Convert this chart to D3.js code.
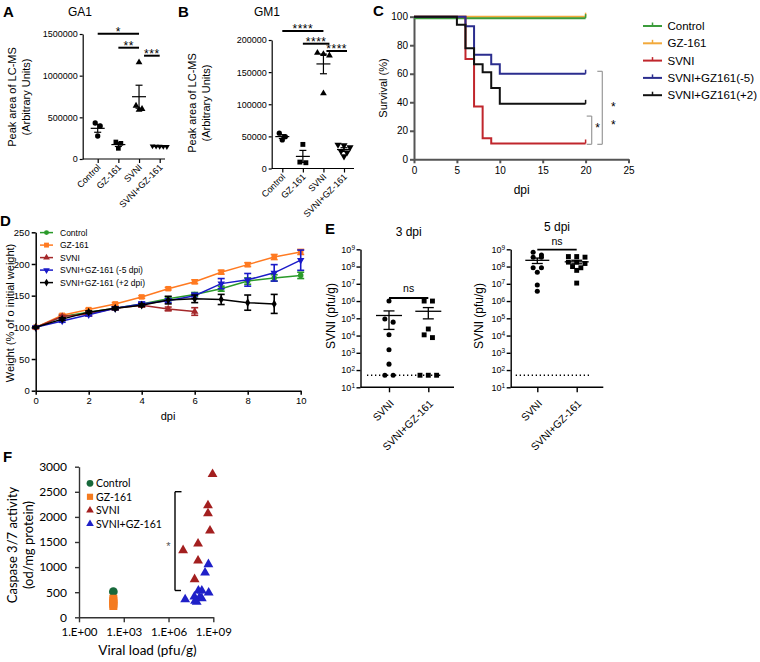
<!DOCTYPE html>
<html><head><meta charset="utf-8">
<script src="https://cdn.jsdelivr.net/npm/d3@7/dist/d3.min.js"></script>
<style>html,body{margin:0;padding:0;background:#fff}svg{display:block}</style>
</head><body>
<svg id="chart" width="760" height="662" xmlns="http://www.w3.org/2000/svg"></svg>
<script>
// ================= DATA =================
const abCategories = ["Control", "GZ-161", "SVNI", "SVNI+GZ-161"];
const ga1Control = [432000, 396000, 276000];
const ga1GZ161 = [204000, 188000, 128000];
const ga1SVNI = [1160000, 640000, 600000, 590000];
const ga1Combo = [155000, 152000, 150000, 149000, 147000];
const ga1Ticks = [0, 500000, 1000000, 1500000];
const ga1Sig = [["Control", "SVNI", "*"], ["GZ-161", "SVNI", "**"], ["SVNI", "SVNI+GZ-161", "***"]];

const gm1Control = [55000, 49500, 44500];
const gm1GZ161 = [37500, 10000, 9000];
const gm1SVNI = [180000, 178000, 176000, 117000];
const gm1Combo = [37000, 36000, 33000, 27000, 25000, 19000];
const gm1Ticks = [0, 50000, 100000, 150000, 200000];
const gm1Sig = [["Control", "SVNI", "****"], ["GZ-161", "SVNI", "****"], ["SVNI", "SVNI+GZ-161", "****"]];

const survNames = ["Control", "GZ-161", "SVNI", "SVNI+GZ161(-5)", "SVNI+GZ161(+2)"];
const survControl = [[0, 99], [20, 99]];
const survGZ161 = [[0, 100], [20, 100]];
const survSVNI = [[0, 100], [6, 70.4], [7, 37], [8, 14.8], [9, 11.1], [20, 11.1]];
const survMinus5 = [[0, 100], [6, 93.3], [7, 73.3], [9, 66.7], [10, 60], [20, 60]];
const survPlus2 = [[0, 100], [5, 94.4], [6, 77.8], [7, 66.7], [8, 61.1], [9, 50], [10, 38.9], [20, 38.9]];
const survXTicks = [0, 5, 10, 15, 20, 25];
const survYTicks = [0, 20, 40, 60, 80, 100];

const weightNames = ["Control", "GZ-161", "SVNI", "SVNI+GZ-161 (-5 dpi)", "SVNI+GZ-161 (+2 dpi)"];
const weightDays = [0, 1, 2, 3, 4, 5, 6, 7, 8, 9, 10];
const wControl = [100, 117, 124, 130, 137, 145, 152, 161, 173, 178, 182];
const wControlErr = [1, 2, 2, 2, 2, 3, 3, 4, 5, 5, 5];
const wGZ161 = [100, 119, 128, 137, 148, 161, 172, 187, 199, 211, 219];
const wGZ161Err = [1, 2, 2, 2, 2, 2, 3, 3, 3, 4, 4];
const wSVNI = [100, 117, 121, 130, 135, 129, 125];
const wSVNIErr = [1, 2, 3, 2, 3, 3, 6];
const wMinus5 = [100, 110, 120, 130, 137, 142, 150, 169, 175, 186, 206];
const wMinus5Err = [1, 2, 2, 2, 3, 3, 4, 8, 10, 13, 16];
const wPlus2 = [100, 113, 124, 130, 135, 143, 145, 144, 139, 137];
const wPlus2Err = [1, 2, 2, 2, 2, 6, 6, 8, 12, 15];
const weightXTicks = [0, 2, 4, 6, 8, 10];
const weightYTicks = [0, 50, 100, 150, 200, 250];

const eCategories = ["SVNI", "SVNI+GZ-161"];
const e3SVNI = [1e6, 9e4, 6e4, 1.1e4, 1.5e3, 220, 50, 50];
const e3Combo = [1e6, 1e6, 2.4e4, 1.1e4, 7.6e3, 50, 50, 50];
const e5SVNI = [6.7e8, 4.7e8, 3.5e8, 3.5e8, 8.5e7, 8.5e7, 4.7e7, 8.5e6, 3.7e6];
const e5Combo = [3.8e8, 3.8e8, 3.5e8, 1.8e8, 1.8e8, 1.5e8, 1e8, 8.5e7, 6e7, 1.1e7];
const eDetectionLimit = 50;
const eTicks = [1e1, 1e2, 1e3, 1e4, 1e5, 1e6, 1e7, 1e8, 1e9];

const fNames = ["Control", "GZ-161", "SVNI", "SVNI+GZ-161"];
const fControl = [[200, 510]];
const fGZ161 = [[200, 370], [200, 330], [200, 290], [200, 260], [200, 225]];
const fSVNI = [[8.9e8, 2850], [4.4e8, 2230], [4.4e8, 2070], [6e8, 1725], [9.5e7, 1466], [9.5e6, 1335], [9.5e7, 1128], [5.6e7, 757]];
const fCombo = [[4.7e8, 1056], [2.8e8, 888], [1e8, 530], [1.7e8, 530], [4.9e8, 490], [5.4e7, 410], [1.2e8, 398], [1.7e8, 378], [7.7e7, 305], [1.3e7, 358], [6e7, 325]];
const fXTicks = [1, 1e3, 1e6, 1e9];
const fXTickLabels = ["1.E+00", "1.E+03", "1.E+06", "1.E+09"];
const fYTicks = [0, 500, 1000, 1500, 2000, 2500, 3000];

// ================= HELPERS =================
const svg = d3.select("#chart");
const FONT = "'Liberation Sans', Arial, Helvetica, sans-serif";
const FONT_F = "Lato, 'Open Sans', sans-serif";

function txt(x, y, s, o = {}) {
  const t = svg.append("text").attr("x", x).attr("y", y).text(s)
    .attr("font-family", o.family || FONT).attr("font-size", o.size || 11)
    .attr("fill", o.fill || "#000").attr("text-anchor", o.anchor || "start");
  if (o.weight) t.attr("font-weight", o.weight);
  if (o.rotate) t.attr("transform", `rotate(${o.rotate},${x},${y})`);
  if (o.baseline) t.attr("dominant-baseline", o.baseline);
  if (o.ls) t.attr("letter-spacing", o.ls);
  return t;
}
function line(g, x1, y1, x2, y2, color, w, dash) {
  const l = g.append("line").attr("x1", x1).attr("y1", y1).attr("x2", x2).attr("y2", y2)
    .attr("stroke", color).attr("stroke-width", w);
  if (dash) l.attr("stroke-dasharray", dash);
  return l;
}
function styleAxis(g, color, width, size, family) {
  g.attr("font-family", family || FONT).attr("font-size", size);
  g.select(".domain").attr("stroke", color).attr("stroke-width", width);
  g.selectAll(".tick line").attr("stroke", color).attr("stroke-width", width);
  g.selectAll(".tick text").attr("fill", "#000");
}
function dodge(values, y, cx, spacing, tol) {
  const pts = values.map(v => ({ v, y: y(v) })).sort((a, b) => a.y - b.y);
  const rows = []; let cur = null;
  pts.forEach(p => { if (cur && p.y - cur[0].y <= tol) cur.push(p); else { cur = [p]; rows.push(cur); } });
  rows.forEach(r => r.forEach((p, i) => { p.x = cx + (i - (r.length - 1) / 2) * spacing; }));
  return pts;
}
const symbolOf = { circle: d3.symbolCircle, square: d3.symbolSquare, up: d3.symbolTriangle, down: d3.symbolTriangle, diamond: d3.symbolDiamond };
function drawMarks(g, pts, shape, size, fill) {
  g.selectAll(null).data(pts).join("path")
    .attr("d", d3.symbol(symbolOf[shape], size)())
    .attr("transform", d => `translate(${d.x},${d.y})` + (shape === "down" ? " rotate(180)" : ""))
    .attr("fill", fill);
}
function meanSem(g, vals, cx, y, half, cap, w) {
  const m = d3.mean(vals);
  const se = d3.deviation(vals) / Math.sqrt(vals.length);
  line(g, cx - half, y(m), cx + half, y(m), "#000", w);
  line(g, cx, y(m - se), cx, y(m + se), "#000", w);
  line(g, cx - cap, y(m + se), cx + cap, y(m + se), "#000", w);
  line(g, cx - cap, y(m - se), cx + cap, y(m - se), "#000", w);
}

// ================= PANELS A & B =================
function dotPanel(c) {
  const g = svg.append("g");
  const y = d3.scaleLinear().domain([0, c.yMax]).range(c.yRange);
  const x = d3.scalePoint().domain(abCategories).range(c.xRange);
  const ay = g.append("g").attr("transform", `translate(${c.axisX},0)`)
    .call(d3.axisLeft(y).tickValues(c.ticks).tickFormat(d3.format("d")).tickSize(3).tickPadding(2).tickSizeOuter(0));
  styleAxis(ay, "#000", 1.2, 9);
  line(g, c.axisX, c.yRange[0], c.axisEnd, c.yRange[0], "#000", 1.2);
  const ax = g.append("g").attr("transform", `translate(0,${c.yRange[0]})`)
    .call(d3.axisBottom(x).tickSize(4).tickSizeOuter(0));
  ax.select(".domain").remove();
  styleAxis(ax, "#000", 1.2, 9);
  ax.selectAll(".tick text").attr("x", 0).attr("y", 0).attr("dy", 0)
    .attr("transform", "translate(3,9) rotate(-45)").attr("text-anchor", "end");
  c.groups.forEach((vals, i) => {
    const cx = x(abCategories[i]);
    drawMarks(g, dodge(vals, y, cx, c.spacing[i], 4), c.shapes[i], c.sizes[i], "#000");
    meanSem(g, vals, cx, y, 7, 3.5, 1.2);
  });
  c.sig.forEach((s, i) => {
    const x1 = x(s[0]) + (i === 2 ? c.sigShift : 0), x2 = x(s[1]) + (i >= 1 ? c.sigEnd[i] : 0);
    line(g, x1, c.sigY[i], x2, c.sigY[i], "#000", 2);
    txt((x1 + x2) / 2, c.sigY[i] + 2, s[2], { size: 12, anchor: "middle", ls: 0.5 });
  });
  txt(c.titleX, 16, c.title, { size: 12, anchor: "middle" });
  txt(c.lab1X, c.labY, "Peak area of LC-MS", { size: 11, anchor: "middle", rotate: -90, baseline: "central" });
  txt(c.lab2X, c.labY, "(Arbitrary Units)", { size: 11, anchor: "middle", rotate: -90, baseline: "central" });
}
dotPanel({
  yMax: 1500000, yRange: [159, 34], xRange: [97.7, 159.7], axisX: 82.7, axisEnd: 165, ticks: ga1Ticks,
  groups: [ga1Control, ga1GZ161, ga1SVNI, ga1Combo], shapes: ["circle", "square", "up", "down"], sizes: [22, 22, 20, 14],
  spacing: [5, 5, 6, 3.6], sig: ga1Sig, sigY: [33.7, 47.7, 55.7], sigShift: 5, sigEnd: [0, 0, 0],
  title: "GA1", titleX: 80, lab1X: 12, lab2X: 26, labY: 97
});
dotPanel({
  yMax: 200000, yRange: [168.5, 40], xRange: [282.3, 344], axisX: 271.7, axisEnd: 354, ticks: gm1Ticks,
  groups: [gm1Control, gm1GZ161, gm1SVNI, gm1Combo], shapes: ["circle", "square", "up", "down"], sizes: [22, 24, 20, 22],
  spacing: [6, 6, 6, 6], sig: gm1Sig, sigY: [31, 43.7, 51], sigShift: 3, sigEnd: [0, 6, 3],
  title: "GM1", titleX: 267, lab1X: 192, lab2X: 206, labY: 103
});
txt(3, 17, "A", { size: 15, weight: "bold" });
txt(178, 17, "B", { size: 15, weight: "bold" });

// ================= PANEL C =================
(function () {
  const g = svg.append("g");
  const x = d3.scaleLinear().domain([0, 25]).range([414, 628.5]);
  const y = d3.scaleLinear().domain([0, 100]).range([159.3, 16.7]);
  const ay = g.append("g").attr("transform", "translate(414,0)")
    .call(d3.axisLeft(y).tickValues(survYTicks).tickSize(4).tickPadding(2).tickSizeOuter(0));
  styleAxis(ay, "#555", 2, 10);
  const ax = g.append("g").attr("transform", "translate(0,159.3)")
    .call(d3.axisBottom(x).tickValues(survXTicks).tickSize(4).tickPadding(4).tickSizeOuter(0));
  styleAxis(ax, "#555", 2, 10);
  const series = [survGZ161, survControl, survSVNI, survMinus5, survPlus2];
  const colors = ["#f2a93b", "#3b9c3b", "#c0262c", "#2b2d8e", "#111111"];
  const lg = d3.line().x(d => x(d[0])).y(d => y(d[1])).curve(d3.curveStepAfter);
  series.forEach((s, i) => {
    g.append("path").attr("d", lg(s)).attr("fill", "none").attr("stroke", colors[i]).attr("stroke-width", 2);
    const last = s[s.length - 1];
    line(g, x(last[0]), y(last[1]), x(last[0]), y(last[1]) - 4, colors[i], 1.5);
  });
  // legend
  const legColors = ["#3b9c3b", "#f2a93b", "#c0262c", "#2b2d8e", "#111111"];
  survNames.forEach((n, i) => {
    const yy = 26 + i * 17.3;
    line(g, 643, yy, 662, yy, legColors[i], 2);
    line(g, 652.5, yy, 652.5, yy - 3.5, legColors[i], 1.5);
    txt(667.5, yy, n, { size: 11.5, baseline: "central" });
  });
  // significance brackets
  const bx1 = 591.7, bx2 = 602.3;
  line(g, bx1, y(30.3), bx1, y(10.5), "#999", 1.2);
  line(g, bx1 - 5, y(30.3), bx1, y(30.3), "#999", 1.2);
  line(g, bx1 - 5, y(10.5), bx1, y(10.5), "#999", 1.2);
  line(g, bx2, y(61.7), bx2, y(10.5), "#999", 1.2);
  line(g, bx2 - 5, y(61.7), bx2, y(61.7), "#999", 1.2);
  line(g, bx2 - 5, y(10.5), bx2, y(10.5), "#999", 1.2);
  txt(597.5, 132, "*", { size: 12, anchor: "middle" });
  txt(613.3, 111, "*", { size: 12, anchor: "middle" });
  txt(613.3, 129, "*", { size: 12, anchor: "middle" });
  txt(521.7, 194, "dpi", { size: 12, anchor: "middle" });
  txt(383, 88, "Survival (%)", { size: 11, anchor: "middle", rotate: -90, baseline: "central" });
  txt(373, 16, "C", { size: 15, weight: "bold" });
})();

// ================= PANEL D =================
(function () {
  const g = svg.append("g");
  const x = d3.scaleLinear().domain([0, 10]).range([35.7, 300.7]);
  const y = d3.scaleLinear().domain([0, 250]).range([390.7, 232.3]);
  const ay = g.append("g").attr("transform", "translate(35.7,0)")
    .call(d3.axisLeft(y).tickValues(weightYTicks).tickSize(4).tickPadding(2).tickSizeOuter(0));
  styleAxis(ay, "#000", 1.5, 9.5);
  const ax = g.append("g").attr("transform", "translate(0,390.7)")
    .call(d3.axisBottom(x).tickValues(weightXTicks).tickSize(4).tickPadding(3).tickSizeOuter(0));
  styleAxis(ax, "#000", 1.5, 9.5);
  const series = [wControl, wGZ161, wSVNI, wMinus5, wPlus2];
  const errs = [wControlErr, wGZ161Err, wSVNIErr, wMinus5Err, wPlus2Err];
  const colors = ["#2a9a2a", "#ff7a21", "#a4282a", "#1a1ac8", "#000000"];
  const shapes = ["circle", "square", "up", "down", "diamond"];
  const sizes = [24, 30, 24, 24, 22];
  const lg = d3.line().x(d => x(d.d)).y(d => y(d.v));
  series.forEach((s, i) => {
    const pts = s.map((v, j) => ({ d: weightDays[j], v, e: errs[i][j] }));
    g.append("path").attr("d", lg(pts)).attr("fill", "none").attr("stroke", colors[i]).attr("stroke-width", 1.5);
    pts.forEach(p => {
      const cx = x(p.d);
      line(g, cx, y(p.v - p.e), cx, y(p.v + p.e), colors[i], 1.6);
      line(g, cx - 3.5, y(p.v + p.e), cx + 3.5, y(p.v + p.e), colors[i], 1.6);
      line(g, cx - 3.5, y(p.v - p.e), cx + 3.5, y(p.v - p.e), colors[i], 1.6);
    });
    drawMarks(g, pts.map(p => ({ x: x(p.d), y: y(p.v) })), shapes[i], sizes[i], colors[i]);
  });
  weightNames.forEach((n, i) => {
    const yy = 232.6 + i * 12.5;
    line(g, 40, yy, 53, yy, colors[i], 1.5);
    drawMarks(g, [{ x: 46.5, y: yy }], shapes[i], sizes[i] * 0.8, colors[i]);
    txt(60, yy, n, { size: 8.5, baseline: "central" });
  });
  txt(168, 420, "dpi", { size: 11, anchor: "middle" });
  txt(10, 313, "Weight (% of o initial weight)", { size: 11, anchor: "middle", rotate: -90, baseline: "central" });
  txt(0, 226, "D", { size: 15, weight: "bold" });
})();

// ================= PANEL E =================
function ePanel(c) {
  const g = svg.append("g");
  const y = d3.scaleLog().domain([10, 1e9]).range([387.3, 249.3]);
  const x = d3.scalePoint().domain(eCategories).range(c.xRange);
  const ay = g.append("g").attr("transform", `translate(${c.axisX},0)`)
    .call(d3.axisLeft(y).tickValues(eTicks).tickSize(4).tickPadding(1.5).tickSizeOuter(0));
  styleAxis(ay, "#000", 1.4, 9);
  ay.selectAll(".tick text").each(function (d) {
    const t = d3.select(this).text(null);
    t.append("tspan").text("10");
    t.append("tspan").text(Math.round(Math.log10(d))).attr("font-size", 6.5).attr("dy", "-0.45em");
  });
  line(g, c.axisX, 387.3, c.axisEnd, 387.3, "#000", 1.4);
  const ax = g.append("g").attr("transform", "translate(0,387.3)")
    .call(d3.axisBottom(x).tickSize(5).tickSizeOuter(0));
  ax.select(".domain").remove();
  styleAxis(ax, "#000", 1.4, 10.5);
  ax.selectAll(".tick text").attr("x", 0).attr("y", 0).attr("dy", 0)
    .attr("transform", "translate(5,17) rotate(-45)").attr("text-anchor", "end");
  line(g, c.dotX[0], y(eDetectionLimit), c.dotX[1], y(eDetectionLimit), "#000", 1.3, "1.3,2.7");
  const shapes = ["circle", "square"];
  c.groups.forEach((vals, i) => {
    const cx = x(eCategories[i]);
    drawMarks(g, dodge(vals, y, cx, 8.3, 3.5), shapes[i], [20, 24][i], "#000");
    meanSem(g, vals, cx, y, c.half, 5.5, 1.3);
  });
  const mid = (x(eCategories[0]) + x(eCategories[1])) / 2;
  line(g, x(eCategories[0]), c.nsY, x(eCategories[1]), c.nsY, "#000", 1.8);
  txt(mid, c.nsBase, "ns", { size: 10.5, anchor: "middle" });
  txt(mid, c.titleY, c.title, { size: 12, anchor: "middle" });
  txt(c.labX, 316, "SVNI (pfu/g)", { size: 12, anchor: "middle", rotate: -90, baseline: "central" });
}
ePanel({ axisX: 360.5, axisEnd: 454, xRange: [389, 428.3], groups: [e3SVNI, e3Combo], half: 13, nsY: 298, nsBase: 292, titleY: 236, title: "3 dpi", dotX: [367, 442], labX: 331 });
ePanel({ axisX: 510.7, axisEnd: 603.3, xRange: [537.3, 576.7], groups: [e5SVNI, e5Combo], half: 12, nsY: 249.7, nsBase: 245, titleY: 231, title: "5 dpi", dotX: [515.7, 591.7], labX: 479 });
txt(325, 234, "E", { size: 15, weight: "bold" });

// ================= PANEL F =================
(function () {
  const g = svg.append("g");
  const x = d3.scaleLog().domain([1, 1e9]).range([79, 213.3]);
  const y = d3.scaleLinear().domain([0, 3000]).range([617.3, 466.7]);
  const ay = g.append("g").attr("transform", "translate(79,0)")
    .call(d3.axisLeft(y).tickValues(fYTicks).tickFormat(d3.format("d")).tickSize(4).tickPadding(8).tickSizeOuter(0));
  styleAxis(ay, "#333", 1.4, 12, FONT_F);
  const ax = g.append("g").attr("transform", "translate(0,617.3)")
    .call(d3.axisBottom(x).tickValues(fXTicks).tickFormat((d, i) => fXTickLabels[i]).tickSize(5).tickPadding(6).tickSizeOuter(0));
  styleAxis(ax, "#333", 1.4, 11.5, FONT_F);
  const colors = ["#17693b", "#f47b20", "#a31f1f", "#1f20c8"];
  const shapes = ["circle", "square", "up", "up"];
  const sizes = [60, 64, 42, 42];
  [fControl, fGZ161, fSVNI, fCombo].forEach((s, i) => {
    drawMarks(g, s.map(d => ({ x: x(d[0]), y: y(d[1]) })), shapes[i], sizes[i], colors[i]);
  });
  fNames.forEach((n, i) => {
    const yy = 483.3 + i * 13.5;
    drawMarks(g, [{ x: 90, y: yy }], shapes[i], sizes[i] * 0.6, colors[i]);
    txt(96, yy, n, { size: 10.5, family: FONT_F, baseline: "central" });
  });
  line(g, 175, 491.7, 175, 590.5, "#000", 1.4);
  line(g, 175, 491.7, 181.5, 491.7, "#000", 1.4);
  line(g, 175, 590.5, 181, 590.5, "#000", 1.4);
  txt(168.3, 550, "*", { size: 11, anchor: "middle", fill: "#555" });
  txt(147.5, 655, "Viral load (pfu/g)", { size: 13.5, anchor: "middle", family: FONT_F });
  txt(12, 545, "Caspase 3/7 activity", { size: 13, anchor: "middle", rotate: -90, baseline: "central", family: FONT_F });
  txt(28, 545, "(od/mg protein)", { size: 13, anchor: "middle", rotate: -90, baseline: "central", family: FONT_F });
  txt(3, 462, "F", { size: 15, weight: "bold" });
})();
</script>
</body></html>
